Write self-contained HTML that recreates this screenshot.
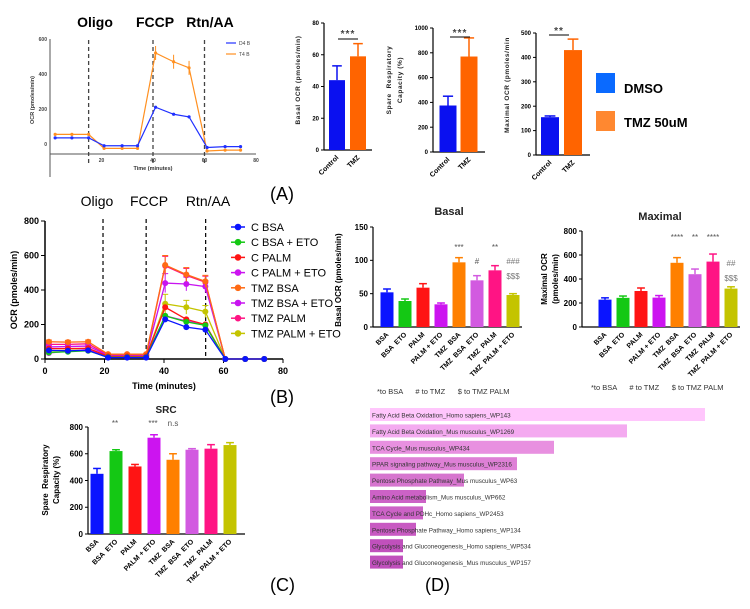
<!DOCTYPE html>
<html><head><meta charset="utf-8"><style>
html,body{margin:0;padding:0;background:#fff;}
svg{display:block;font-family:"Liberation Sans",sans-serif;}
text{white-space:pre;}
</style></head><body>
<svg id="fig" width="750" height="609" viewBox="0 0 750 609" xmlns="http://www.w3.org/2000/svg">
<rect width="750" height="609" fill="#fff"/>
</svg>
<script>
// ---------- Panel A line chart data ----------
const aTimes=[2,8.5,15,21,28,34,41,48,54,61,68,74];
const aD4=[35,35,35,-10,-10,-10,210,170,155,-20,-15,-15];
const aT4=[55,55,55,-25,-25,-25,520,470,435,-40,-35,-35];
const aT4Err=[8,8,8,6,6,6,40,40,40,6,6,6];
const aYTicks=[0,200,400,600];
const aXTicks=[20,40,60,80];
const aInjections=[15,40,60];
// ---------- Panel A bar data ----------
const topCats=['Control','TMZ'];
const topBasal=[44,59];const topBasalErr=[53,67];
const topSpare=[375,770];const topSpareErr=[450,920];
const topMax=[155,430];const topMaxErr=[160,475];
// ---------- Panel B line data ----------
const bTimes=[1.3,7.7,14.5,21.2,27.6,34,40.4,47.5,53.9,60.6,67.3,73.7];
const bSeriesNames=['C BSA','C BSA + ETO','C PALM','C PALM + ETO','TMZ BSA','TMZ BSA + ETO','TMZ PALM','TMZ PALM + ETO'];
const bCBSA=[50,48,50,8,8,8,230,185,170,0,0,0];
const bCBSAETO=[38,42,48,10,10,10,250,215,195,0,0,0];
const bCPALM=[60,60,62,15,15,15,300,230,200,0,0,0];
const bCPALMETO=[35,45,55,12,12,12,250,220,200,0,0,0];
const bTBSA=[100,98,100,28,28,28,545,490,450,0,0,0];
const bTBSAETO=[70,72,75,20,20,20,440,435,420,0,0,0];
const bTPALM=[85,85,88,22,22,22,540,485,445,0,0,0];
const bTPALMETO=[48,50,52,15,15,15,320,300,275,0,0,0];
const bPeakErr=[10,10,10,5,5,5,55,40,35,3,3,3];
const bYTicks=[0,200,400,600,800];
const bXTicks=[0,20,40,60,80];
const bInjections=[19.5,34,54];
// ---------- Group bar data ----------
const grpCats=['BSA','BSA  ETO','PALM','PALM + ETO','TMZ  BSA','TMZ  BSA  ETO','TMZ  PALM','TMZ  PALM + ETO'];
const basalVals=[52,39,59,34,97,70,85,48];
const basalErr=[57,42,65,36,104,77,92,50];
const maxVals=[228,243,300,245,535,440,545,320];
const maxErr=[243,258,325,262,578,483,608,335];
const srcVals=[450,620,505,720,555,630,638,665];
const srcErr=[490,630,520,742,600,638,668,683];
// ---------- Panel D data ----------
const dLabels=['Fatty Acid Beta Oxidation_Homo sapiens_WP143','Fatty Acid Beta Oxidation_Mus musculus_WP1269','TCA Cycle_Mus musculus_WP434','PPAR signaling pathway_Mus musculus_WP2316','Pentose Phosphate Pathway_Mus musculus_WP63','Amino Acid metabolism_Mus musculus_WP662','TCA Cycle and PDHc_Homo sapiens_WP2453','Pentose Phosphate Pathway_Homo sapiens_WP134','Glycolysis and Gluconeogenesis_Homo sapiens_WP534','Glycolysis and Gluconeogenesis_Mus musculus_WP157'];
const dValues=[335,257,184,147,94,56,53,46,33,33];

const grpColors=['#0a14ff','#14c814','#ff1414','#cc14f0','#ff8000','#d25ae0','#ff1484','#c4c400'];
const topColors=['#0a10f0','#ff6400'];
const dColors=['#ffc6fc','#f4aaf0','#e890e0','#de80d6','#d675ce','#cc62c6','#cc62c6','#c85ac2','#c050bc','#c050bc'];

const NS='http://www.w3.org/2000/svg';
const svg=document.getElementById('fig');
function mk(tag,a,p){const e=document.createElementNS(NS,tag);for(const k in a)e.setAttribute(k,a[k]);(p||svg).appendChild(e);return e;}
function txt(s,a,p){const e=mk('text',a,p);e.textContent=s;return e;}

// ---------- generic bar chart ----------
function drawBars(cfg,cats,vals,errs,colors,chartName){
  const g=mk('g',{});
  
  
  const ys=v=>cfg.y0-(v/cfg.vMax)*(cfg.y0-cfg.yTop);
  let e=mk('line',{x1:cfg.ax,y1:cfg.yTop,x2:cfg.ax,y2:cfg.y0,stroke:'#000','stroke-width':1.2},g);
  
  
  e=mk('line',{x1:cfg.ax,y1:cfg.y0,x2:cfg.xEnd,y2:cfg.y0,stroke:'#000','stroke-width':1.2},g);
  
  
  cfg.ticks.forEach(t=>{
    const y=ys(t);
    let l=mk('line',{x1:cfg.ax-3,y1:y,x2:cfg.ax,y2:y,stroke:'#000','stroke-width':1},g);
    
    
    let tt=txt(String(t),{x:cfg.ax-5,y:y+cfg.fs*0.35,'text-anchor':'end','font-size':cfg.fs,'font-weight':'bold'},g);
    
    
  });
  vals.forEach((v,i)=>{
    const cx=cfg.x0+i*cfg.step;
    const c=colors[i%colors.length];
    let el=mk('line',{x1:cx,y1:ys(v),x2:cx,y2:ys(errs[i]),stroke:c,'stroke-width':1.5},g);
    
    
    el=mk('line',{x1:cx-cfg.w*0.3,y1:ys(errs[i]),x2:cx+cfg.w*0.3,y2:ys(errs[i]),stroke:c,'stroke-width':1.5},g);
    
    
    el=mk('rect',{x:cx-cfg.w/2,y:ys(v),width:cfg.w,height:cfg.y0-ys(v),fill:c},g);
    
    
    el=txt(cats[i],{x:cx+2,y:cfg.y0+8,'text-anchor':'end','font-size':cfg.lfs,'font-weight':'bold',transform:'rotate(-45 '+(cx+2)+' '+(cfg.y0+8)+')'},g);
    
    
  });
  return g;
}

// ---------- Panel A line chart ----------
(function(){
  const x=t=>50+t*2.575, y=v=>144-v*(105/600);
  const g=mk('g',{});
  
  
  let e=mk('line',{x1:50,y1:39,x2:50,y2:177,stroke:'#555','stroke-width':1},g);
  
  
  e=mk('line',{x1:50,y1:154,x2:256,y2:154,stroke:'#555','stroke-width':1},g);
  
  
  aYTicks.forEach(t=>{
    let l=txt(String(t),{x:47,y:y(t)+2,'text-anchor':'end','font-size':5,'font-weight':'bold',fill:'#444'},g);
    
    
  });
  aXTicks.forEach(t=>{
    let l=txt(String(t),{x:x(t),y:162,'text-anchor':'middle','font-size':5,'font-weight':'bold',fill:'#444'},g);
    
    
  });
  aInjections.forEach(t=>{
    let l=mk('line',{x1:x(t),y1:40,x2:x(t),y2:166,stroke:'#444','stroke-width':1.3,'stroke-dasharray':'4,3'},g);
    
    
  });
  [['Oligo',95],['FCCP',155],['Rtn/AA',210]].forEach(p=>{
    let l=txt(p[0],{x:p[1],y:27,'text-anchor':'middle','font-size':14,'font-weight':'bold'},g);
    
    
  });
  let l=txt('Time (minutes)',{x:153,y:170,'text-anchor':'middle','font-size':5.5,'font-weight':'bold',fill:'#333'},g);
  
  
  l=txt('OCR (pmoles/min)',{x:34,y:100,'text-anchor':'middle','font-size':5.5,'font-weight':'bold',fill:'#333',transform:'rotate(-90 34 100)'},g);
  
  
  const orange='#ff9020', blue='#2030ff';
  aT4.forEach((v,i)=>{
    let eb=mk('line',{x1:x(aTimes[i]),y1:y(v-aT4Err[i]),x2:x(aTimes[i]),y2:y(v+aT4Err[i]),stroke:orange,'stroke-width':1},g);
    
    
  });
  let p=mk('polyline',{points:aT4.map((v,i)=>x(aTimes[i])+','+y(v)).join(' '),fill:'none',stroke:orange,'stroke-width':1.2},g);
  
  
  p=mk('polyline',{points:aD4.map((v,i)=>x(aTimes[i])+','+y(v)).join(' '),fill:'none',stroke:blue,'stroke-width':1.2},g);
  
  
  aT4.forEach((v,i)=>{let c=mk('circle',{cx:x(aTimes[i]),cy:y(v),r:1.6,fill:orange},g);
    
    });
  aD4.forEach((v,i)=>{let c=mk('circle',{cx:x(aTimes[i]),cy:y(v),r:1.6,fill:blue},g);
    
    });
  [['D4 B',blue,43],['T4 B',orange,54]].forEach(s=>{
    let ln=mk('line',{x1:226,y1:s[2],x2:236,y2:s[2],stroke:s[1],'stroke-width':1.2},g);
    
    
    let t=txt(s[0],{x:239,y:s[2]+2,'font-size':5,fill:'#444'},g);
    
    
  });
})();

// ---------- Panel A bars ----------
drawBars({ax:324,y0:150,yTop:23,vMax:80,ticks:[0,20,40,60,80],x0:337,step:21,w:16,xEnd:372,fs:6,lfs:7},topCats,topBasal,topBasalErr,topColors,'basal-ocr-chart');
drawBars({ax:433,y0:152,yTop:28,vMax:1000,ticks:[0,200,400,600,800,1000],x0:448,step:21,w:17,xEnd:485,fs:6,lfs:7},topCats,topSpare,topSpareErr,topColors,'spare-capacity-chart');
drawBars({ax:536,y0:155,yTop:33,vMax:500,ticks:[0,100,200,300,400,500],x0:550,step:23,w:18,xEnd:590,fs:6,lfs:7},topCats,topMax,topMaxErr,topColors,'maximal-ocr-chart');
(function(){
  const items=[['Basal OCR (pmoles/min)',300,80],['Spare  Respiratory',391,80],['Capacity (%)',402,80],['Maximal OCR (pmoles/min',509,85]];
  items.forEach(it=>{let t=txt(it[0],{x:it[1],y:it[2],'text-anchor':'middle','font-size':6.5,'font-weight':'bold',fill:'#222','letter-spacing':'0.6',transform:'rotate(-90 '+it[1]+' '+it[2]+')'});
    
    });
  [['***',348,37,338,358,39],['***',460,36,450,470,37],['**',559,34,549,569,35]].forEach(s=>{
    let t=txt(s[0],{x:s[1],y:s[2],'text-anchor':'middle','font-size':10,'font-weight':'bold',fill:'#444','letter-spacing':'1'});
    
    
    let l=mk('line',{x1:s[3],y1:s[5],x2:s[4],y2:s[5],stroke:'#000','stroke-width':1});
    
    
  });
  let r=mk('rect',{x:596,y:73,width:19,height:20,fill:'#0a6aff'});
  
  
  r=mk('rect',{x:596,y:111,width:19,height:20,fill:'#ff8830'});
  
  
  let t=txt('DMSO',{x:624,y:93,'font-size':13,'font-weight':'bold'});
  
  
  t=txt('TMZ 50uM',{x:624,y:127,'font-size':13,'font-weight':'bold'});
  
  
  t=txt('(A)',{x:270,y:200,'font-size':18});
  
  
})();

// ---------- Panel B line chart ----------
(function(){
  const x=t=>45+t*2.975, y=v=>359-v*(138/800);
  const g=mk('g',{});
  
  
  let e=mk('line',{x1:45,y1:221,x2:45,y2:359,stroke:'#000','stroke-width':1.5},g);
  
  
  e=mk('line',{x1:45,y1:359,x2:283,y2:359,stroke:'#000','stroke-width':1.5},g);
  
  
  bYTicks.forEach(t=>{
    let l=mk('line',{x1:41,y1:y(t),x2:45,y2:y(t),stroke:'#000','stroke-width':1},g);
    
    
    l=txt(String(t),{x:39,y:y(t)+3,'text-anchor':'end','font-size':9,'font-weight':'bold'},g);
    
    
  });
  bXTicks.forEach(t=>{
    let l=mk('line',{x1:x(t),y1:359,x2:x(t),y2:363,stroke:'#000','stroke-width':1},g);
    
    
    l=txt(String(t),{x:x(t),y:374,'text-anchor':'middle','font-size':9,'font-weight':'bold'},g);
    
    
  });
  bInjections.forEach(t=>{
    let l=mk('line',{x1:x(t),y1:219,x2:x(t),y2:359,stroke:'#000','stroke-width':1.2,'stroke-dasharray':'4,3'},g);
    
    
  });
  [['Oligo',97],['FCCP',149],['Rtn/AA',208]].forEach(p=>{
    let l=txt(p[0],{x:p[1],y:206,'text-anchor':'middle','font-size':14},g);
    
    
  });
  let l=txt('Time (minutes)',{x:164,y:389,'text-anchor':'middle','font-size':9,'font-weight':'bold'},g);
  
  
  l=txt('OCR (pmoles/min)',{x:17,y:290,'text-anchor':'middle','font-size':9,'font-weight':'bold',transform:'rotate(-90 17 290)'},g);
  
  
  const series=[bCBSA,bCBSAETO,bCPALM,bCPALMETO,bTBSA,bTBSAETO,bTPALM,bTPALMETO];
  const cols=['#0a14ff','#14c814','#ff1414','#cc14f0','#ff6a14','#c814f0','#ff1484','#c4c400'];
  const order=[7,6,5,4,3,2,1,0];
  order.forEach(si=>{
    const s=series[si],c=cols[si];
    s.forEach((v,i)=>{ if(si>=4){
      let eb=mk('line',{x1:x(bTimes[i]),y1:y(v-bPeakErr[i]),x2:x(bTimes[i]),y2:y(v+bPeakErr[i]),stroke:c,'stroke-width':1},g);
      
      
      eb=mk('line',{x1:x(bTimes[i])-3,y1:y(v+bPeakErr[i]),x2:x(bTimes[i])+3,y2:y(v+bPeakErr[i]),stroke:c,'stroke-width':1},g);
      
      }});
    let p=mk('polyline',{points:s.map((v,i)=>x(bTimes[i])+','+y(v)).join(' '),fill:'none',stroke:c,'stroke-width':1.3},g);
    
    
    s.forEach((v,i)=>{let cc=mk('circle',{cx:x(bTimes[i]),cy:y(v),r:3,fill:c},g);
      
      });
  });
  bSeriesNames.forEach((n,i)=>{
    const ly=227+i*15.2;
    let ln=mk('line',{x1:231,y1:ly,x2:245,y2:ly,stroke:cols[i],'stroke-width':1.5},g);
    
    
    ln=mk('circle',{cx:238,cy:ly,r:3.3,fill:cols[i]},g);
    
    
    let t=txt(n,{x:251,y:ly+4,'font-size':11},g);
    
    
  });
  let t=txt('(B)',{x:270,y:403,'font-size':18});
  
  
})();

// ---------- Panel B bar charts ----------
drawBars({ax:373,y0:327,yTop:227,vMax:150,ticks:[0,50,100,150],x0:387,step:18,w:13,xEnd:522,fs:8,lfs:7},grpCats,basalVals,basalErr,grpColors,'basal-group-chart');
drawBars({ax:582,y0:327,yTop:231,vMax:800,ticks:[0,200,400,600,800],x0:605,step:18,w:13,xEnd:740,fs:8,lfs:7},grpCats,maxVals,maxErr,grpColors,'maximal-group-chart');
drawBars({ax:88,y0:534,yTop:427,vMax:800,ticks:[0,200,400,600,800],x0:97,step:19,w:13,xEnd:245,fs:8,lfs:7},grpCats,srcVals,srcErr,grpColors,'src-group-chart');
(function(){
  const T=[['Basal',449,215,11,'bold','#222'],['Maximal',660,220,11,'bold','#222'],['SRC',166,413,10,'bold','#222'],
    ['***',459,250,8,'normal','#555'],['**',495,250,8,'normal','#555'],['#',477,264,8,'normal','#555'],['###',513,264,8,'normal','#777'],['$$$',513,279,8,'normal','#777'],
    ['****',677,240,8,'normal','#555'],['**',695,240,8,'normal','#555'],['****',713,240,8,'normal','#555'],['##',731,266,8,'normal','#777'],['$$$',731,281,8,'normal','#777'],
    ['**',115,426,8,'normal','#555'],['***',153,426,8,'normal','#555'],['n.s',173,426,8,'normal','#555']];
  T.forEach(a=>{let t=txt(a[0],{x:a[1],y:a[2],'text-anchor':'middle','font-size':a[3],'font-weight':a[4],fill:a[5]});
    
    });
  let t=txt('Basal OCR (pmoles/min)',{x:341,y:280,'text-anchor':'middle','font-size':8,'font-weight':'bold',transform:'rotate(-90 341 280)'});
  
  
  t=txt('Maximal OCR',{x:547,y:279,'text-anchor':'middle','font-size':8,'font-weight':'bold',transform:'rotate(-90 547 279)'});
  
  
  t=txt('(pmoles/min)',{x:558,y:279,'text-anchor':'middle','font-size':8,'font-weight':'bold',transform:'rotate(-90 558 279)'});
  
  
  t=txt('Spare  Respiratory',{x:48,y:480,'text-anchor':'middle','font-size':8,'font-weight':'bold',transform:'rotate(-90 48 480)'});
  
  
  t=txt('Capacity (%)',{x:59,y:480,'text-anchor':'middle','font-size':8,'font-weight':'bold',transform:'rotate(-90 59 480)'});
  
  
  t=txt('*to BSA      # to TMZ      $ to TMZ PALM',{x:377,y:394,'font-size':7.5,fill:'#333'});
  
  
  t=txt('*to BSA      # to TMZ      $ to TMZ PALM',{x:591,y:390,'font-size':7.5,fill:'#333'});
  
  
  t=txt('(C)',{x:270,y:591,'font-size':18});
  
  
})();

// ---------- Panel D ----------
(function(){
  const x0=370, xs=v=>v*1.0, rowY=i=>408+i*16.4, h=13;
  const g=mk('g',{});
  
  
  dValues.forEach((v,i)=>{
    let r=mk('rect',{x:x0,y:rowY(i),width:xs(v),height:h,fill:dColors[i]},g);
    
    
    let t=txt(dLabels[i],{x:x0+2,y:rowY(i)+9.5,'font-size':6.3,fill:'#333'},g);
    
    
  });
  let t=txt('(D)',{x:425,y:591,'font-size':18});
  
  
})();
</script>
</body></html>
